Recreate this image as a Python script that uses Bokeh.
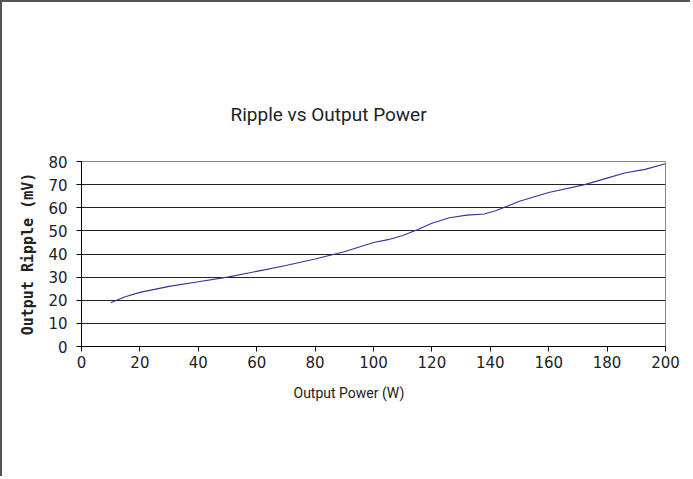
from bokeh.plotting import figure
from bokeh.models import Range1d, SingleIntervalTicker, Title
from bokeh.embed import file_html
from bokeh.resources import INLINE

# Data
power_w = [10, 15, 20, 30, 40, 50, 60, 70, 80, 90, 100, 105, 110, 115, 120, 126, 132, 138, 142, 150, 160, 172, 180, 186, 193, 200]
ripple_mv = [18.9, 21.5, 23.4, 26.0, 28.0, 30.0, 32.5, 35.0, 37.8, 41.0, 45.0, 46.2, 48.0, 50.5, 53.3, 55.7, 56.8, 57.3, 58.8, 62.8, 66.6, 69.9, 72.8, 75.0, 76.6, 79.0]

title_text = "Ripple vs Output Power"
x_label = "Output Power (W)"
y_label = "Output Ripple (mV)"

p = figure(width=690, height=476, output_backend="svg", toolbar_location=None,
           x_range=Range1d(0, 200), y_range=Range1d(0, 80),
           min_border_left=79, min_border_right=27, min_border_top=159, min_border_bottom=132,
           background_fill_color="white", border_fill_color="white")
p.styles = {"border-left": "2px solid #555555", "border-top": "2px solid #555555"}

p.line(power_w, ripple_mv, line_color="#34349a", line_width=1.1)

# title
p.title.text = title_text
p.title.align = "left"
p.title.offset = 149
p.title.text_font = "Roboto"
p.title.text_font_size = "19px"
p.title.text_font_style = "normal"
p.title.text_color = "#222222"
p.title.standoff = 72

# x label as a below title (offset to the left of frame centre)
p.add_layout(Title(text=x_label, align="left", offset=212, text_font="Roboto",
                   text_font_size="14px", text_font_style="normal", text_color="#222222",
                   standoff=24), "below")

for ax in (p.xaxis[0], p.yaxis[0]):
    ax.axis_line_color = "black"
    ax.axis_line_width = 1
    ax.major_tick_line_color = "black"
    ax.major_tick_out = 5
    ax.major_tick_in = 0
    ax.minor_tick_line_color = None
    ax.major_label_text_font = "DejaVu Sans"
    ax.major_label_text_font_size = "15px"
    ax.major_label_text_color = "#222222"

p.xaxis[0].ticker = SingleIntervalTicker(interval=20)
p.yaxis[0].ticker = SingleIntervalTicker(interval=10)
p.xaxis[0].major_label_standoff = 4
p.yaxis[0].major_label_standoff = 9

p.yaxis[0].axis_label = y_label
p.yaxis[0].axis_label_text_font = "DejaVu Sans Mono"
p.yaxis[0].axis_label_text_font_style = "bold"
p.yaxis[0].axis_label_text_font_size = "15px"
p.yaxis[0].axis_label_text_color = "#222222"
p.yaxis[0].axis_label_standoff = 8

p.xgrid.grid_line_color = None
p.ygrid.grid_line_color = "#222222"
p.ygrid.grid_line_width = 1
p.ygrid.ticker = SingleIntervalTicker(interval=10)

p.outline_line_color = "#8c8c8c"
p.outline_line_width = 1

open("out.html", "w").write(file_html(p, INLINE))
